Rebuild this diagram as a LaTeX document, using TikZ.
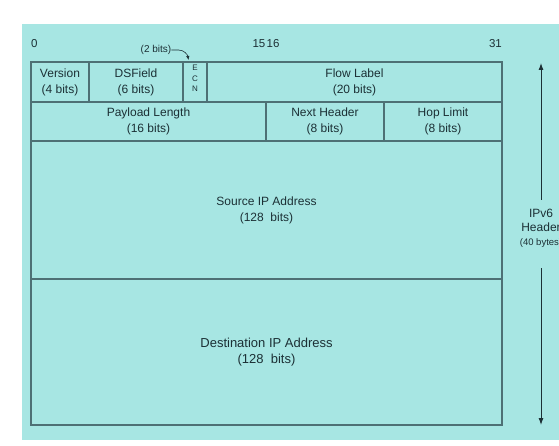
\documentclass[tikz,border=0pt]{standalone}
\usepackage{fontspec}
\setmainfont{Liberation Sans}
\usetikzlibrary{arrows.meta}
\definecolor{bgcyan}{HTML}{A7E6E3}
\definecolor{cellline}{HTML}{4E7075}
\definecolor{txtdark}{HTML}{1C3035}

\begin{document}
\begin{tikzpicture}[x=1pt,y=-1pt,
  field/.style={draw=cellline,line width=1.3pt,anchor=north west,inner sep=0pt,outer sep=0pt,
    align=center,text=txtdark,font={\fontsize{12}{15.8}\selectfont}},
  bitno/.style={text=txtdark,inner sep=0pt,font={\fontsize{11.5}{13}\selectfont}},
  small/.style={text=txtdark,inner sep=0pt,font={\fontsize{10}{11}\selectfont}}]
\useasboundingbox (0,0) rectangle (559,446);
\fill[bgcyan] (22,24) rectangle (560,440);
% bit numbers
\node[bitno,anchor=west] (b0) at (31,44) {0};
\node[bitno,anchor=east] (b15) at (265.5,44) {15};
\node[bitno,anchor=west] (b16) at (266.5,44) {16};
\node[bitno,anchor=east] (b31) at (502,44) {31};
% first row
\node[field,minimum width=58pt,minimum height=40pt] (ver) at (31,62) {Version\\(4 bits)};
\node[field,minimum width=94pt,minimum height=40pt] (ds) at (89,62) {DSField\\(6 bits)};
\node[field,minimum width=24pt,minimum height=40pt] (ecn) at (183,62) {};
\node[field,minimum width=295pt,minimum height=40pt] (flow) at (207,62) {Flow Label\\(20 bits)};
\node[small,align=center,font={\fontsize{8}{10.3}\selectfont}] (ecnlbl) at (195,78.5) {E\\C\\N};
% second row
\node[field,minimum width=235pt,minimum height=39pt] (len) at (31,102) {Payload Length\\(16 bits)};
\node[field,minimum width=118pt,minimum height=39pt] (nxt) at (266,102) {Next Header\\(8 bits)};
\node[field,minimum width=118pt,minimum height=39pt] (hop) at (384,102) {Hop Limit\\(8 bits)};
% addresses
\node[field,minimum width=471pt,minimum height=138pt] (src) at (31,141) {Source IP Address\\(128\ \ bits)};
\node[field,minimum width=471pt,minimum height=146pt,font={\fontsize{13}{16}\selectfont}] (dst) at (31,279) {Destination IP Address\\(128\ \ bits)};
% ECN width
\node[small] (two) at (156,50) {(2 bits)};
\coordinate (ecntip) at (188.5,60);
\draw[txtdark,line width=0.6pt,-{Latex[length=4pt,width=3.5pt]}] (two.east) -- ++(7,0) to[out=0,in=100] (ecntip);
% header size
\node[text=txtdark,align=center,inner sep=0pt,font={\fontsize{12}{14.5}\selectfont}] (hdr) at (541,228)
  {IPv6\\Header\\[-1pt]{\fontsize{9.5}{10}\selectfont(40 bytes)}};
\coordinate (hdrtop) at (541,200);
\coordinate (hdrbot) at (541,268);
\coordinate (tiptop) at (541,63);
\coordinate (tipbot) at (541,425);
\draw[txtdark,line width=0.9pt,-{Latex[length=7pt,width=5pt]}] (hdrtop) -- (tiptop);
\draw[txtdark,line width=0.9pt,-{Latex[length=7pt,width=5pt]}] (hdrbot) -- (tipbot);
\end{tikzpicture}
\end{document}
